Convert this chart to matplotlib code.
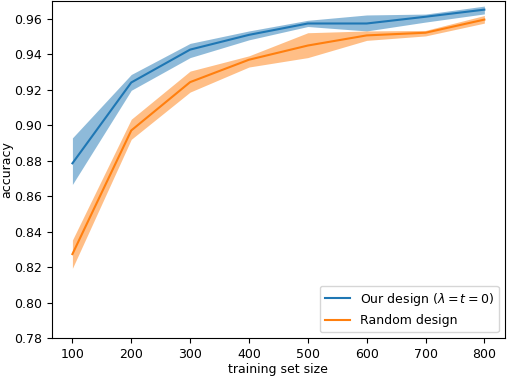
import numpy as np
import matplotlib
matplotlib.use("Agg")
import matplotlib.pyplot as plt

sizes = [100, 200, 300, 400, 500, 600, 700, 800]

# our design (lambda = t = 0)
ours_mean = [0.8785, 0.924, 0.9425, 0.9508, 0.9572, 0.9572, 0.961, 0.965]
ours_low = [0.8666, 0.9196, 0.938, 0.948, 0.9555, 0.953, 0.958, 0.9626]
ours_high = [0.8928, 0.9285, 0.946, 0.953, 0.959, 0.962, 0.9625, 0.967]

# random design
rand_mean = [0.8274, 0.897, 0.9242, 0.9368, 0.9448, 0.9505, 0.952, 0.9594]
rand_low = [0.8194, 0.892, 0.9186, 0.9327, 0.938, 0.9477, 0.9502, 0.9574]
rand_high = [0.8353, 0.9033, 0.9304, 0.939, 0.952, 0.953, 0.9533, 0.9617]

plt.rcParams['font.size'] = 9

fig = plt.figure(figsize=(5.08, 3.78), dpi=100)
ax = fig.add_axes([0.102, 0.105, 0.892, 0.893])

ax.plot(sizes, ours_mean, color='C0', label=r'Our design ($\lambda = t = 0$)')
ax.fill_between(sizes, ours_low, ours_high, color='C0', alpha=0.5, linewidth=0)
ax.plot(sizes, rand_mean, color='C1', label='Random design')
ax.fill_between(sizes, rand_low, rand_high, color='C1', alpha=0.5, linewidth=0)

ax.set_ylim(0.78, 0.97)
ax.set_yticks(np.arange(0.78, 0.961, 0.02))
ax.set_xlabel('training set size', labelpad=1.5)
ax.set_ylabel('accuracy', labelpad=0.5)
ax.legend(loc='lower right')

fig.savefig('out.png', dpi=100)
